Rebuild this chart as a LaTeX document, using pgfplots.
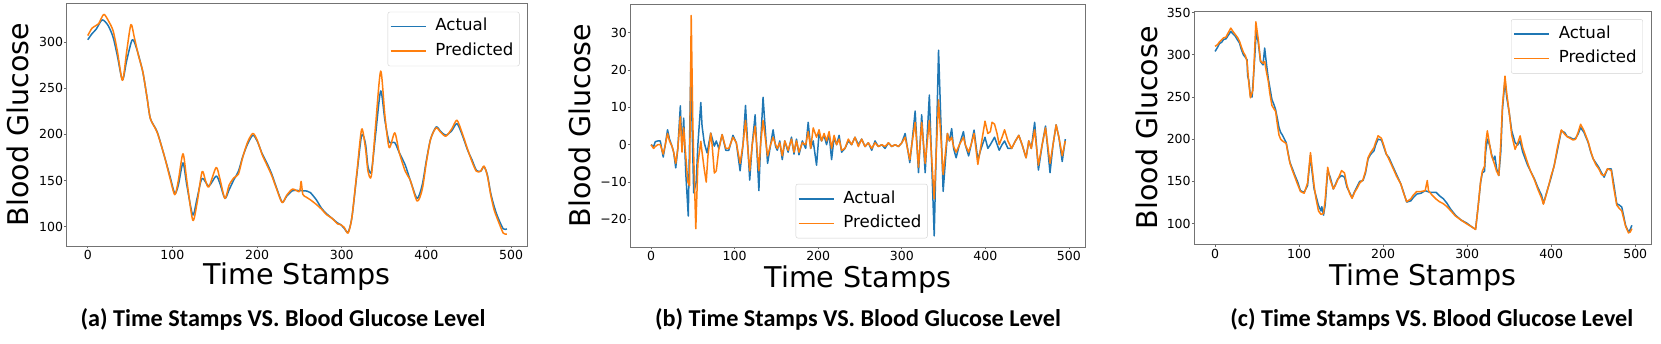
\documentclass[border=0pt]{standalone}
\usepackage{fontspec}
\setmainfont{DejaVu Sans}
\newfontfamily\capfont{Carlito}
\usepackage{pgfplots}
\pgfplotsset{compat=1.18}
\definecolor{mblue}{HTML}{1F77B4}
\definecolor{morange}{HTML}{FF7F0E}

\pgfplotsset{
  panel/.style={
    scale only axis,
    anchor=south west,
    axis line style={draw=black!55, line width=0.8pt},
    xmin=-24.75, xmax=519.75,
    xtick={0,100,...,500},
    xtick pos=bottom, ytick pos=left,
    tick align=outside,
    tick style={draw=black!60, line width=0.6pt},
    major tick length=2.5pt,
    tick label style={font=\fontsize{12.5}{13}\selectfont},
    xticklabel style={inner sep=1pt, yshift=-1pt},
    yticklabel style={inner sep=1pt},
    /pgf/number format/assume math mode=true,
    xlabel={Time Stamps},
    ylabel={Blood Glucose},
    xlabel style={font=\fontsize{28.6}{30}\selectfont, anchor=base},
    ylabel style={font=\fontsize{28.5}{30}\selectfont, anchor=base},
    legend cell align=left,
    legend style={font=\fontsize{16.6}{20}\selectfont, draw=black!18,
      rounded corners=2pt, inner xsep=2pt, inner ysep=2.5pt,
      nodes={inner xsep=4pt, inner ysep=4.5pt, text height=12pt, text depth=3.5pt},
      /tikz/every odd column/.append style={column sep=5pt}},
    legend image code/.code={\draw[#1, line width=1.5pt] (0pt,0pt) -- (35pt,0pt);},
    every axis plot/.append style={line width=1.5pt, line join=round},
  },
}
\tikzset{captxt/.style={font=\capfont\bfseries\fontsize{24.2}{26}\selectfont, anchor=base}}

\begin{document}
\begin{tikzpicture}
\useasboundingbox (0pt,0pt) rectangle (1661pt,344pt);

% (a) smoothed series
\begin{axis}[panel, at={(66.8pt,98pt)}, width=461pt, height=242.7pt,
  ymin=79, ymax=342, ytick={100,150,...,300},
  xlabel style={at={(axis description cs:0.5,-0.16)}},
  ylabel style={at={(axis description cs:-0.083,0.5)}},
  legend style={at={(axis description cs:0.982,0.965)}, anchor=north east}]
\addplot[mblue, smooth, tension=0.45] coordinates {
(0,302.5)(5,309)(10,314)(17,324)(24,318)(30,305)(35,285)(41,259)(46,280)(52.6,302.5)
(58,292)(65,267.6)(70,240)(74,217)(82,202.7)(90.6,176)(97,155)(102.8,136)(107,145)(112.5,169)
(117,145)(124,112.6)(129,130)(135,152.2)(143,144)(151.6,154.8)(156,147)(162,130.6)(167,140)(172.7,151)
(178,160)(183,175.7)(189,190)(195,199)(200,193)(206,179)(211,170)(217,157.7)(223,142)(229.6,126.5)
(235,133)(242,139)(250,139)(259,138.5)(263,136.8)(270,129)(276,120)(282,114)(288.5,109)(295,104)
(299,102)(303,98)(307.5,94)(312,110)(318,157.7)(323.5,199)(328,190)(331,165)(335,159.5)(340,200)
(346,247)(351,215)(356,192)(362.6,191)(368,180)(375,166.7)(381,150)(389,130.6)(395,145)(400,172)
(405,195)(411.5,208)(417,203)(423,199)(430,204)(436,211.7)(442,200)(448.6,183)(454,172)(459,161)
(464,160)(468,164.9)(472,156)(476,136)(480,122)(484,111)(490.7,97.6)(495,97.6)};
\addplot[morange, smooth, tension=0.45] coordinates {
(0,307)(5,315)(10,318)(13,320)(19,330)(25,322)(30,312)(35,290)(41,258.5)(46,290)
(51,319)(55,305)(60,285)(65,268)(70,240)(74,217)(82,202)(90.6,176)(97,153)(102.8,134.6)
(107,150)(112.5,179)(117,150)(124,107)(129,125)(135,159.5)(139,150)(143,143)(151.6,164)(156,152)
(162,130.6)(167,145)(172.7,153)(178,157)(183,175)(189,192)(195,201)(200,194)(206,178)(211,168)
(217,156)(223,141)(229.6,126)(235,134)(242,140.7)(250,138)(252,149)(254,135)(258,132)(263,129)
(270,124)(276,119)(282,113)(288.5,109)(295,103)(299,102)(303,99)(307.5,93)(312,110)(318,160)
(323.5,205.6)(328,185)(331,160)(335,155)(340,210)(346,268.6)(351,220)(356,185.6)(362.6,201.6)(368,180)
(375,160)(381,150)(389,127.7)(395,140)(400,170)(405,195)(411.5,207)(417,202)(423,198)(430,206)
(436,215.3)(442,202)(448.6,184)(454,170)(459,160)(464,160)(468,165.6)(472,155)(476,134)(480,118)
(484,108)(490.7,93)(495,92)};
\legend{Actual, Predicted}
\end{axis}

% (b) differenced series
\begin{axis}[panel, at={(630.4pt,97pt)}, width=455pt, height=242.7pt,
  ymin=-27.4, ymax=37.6, ytick={-20,-10,0,10,20,30},
  yticklabels={−20,−10,0,10,20,30},
  xlabel style={at={(axis description cs:0.5,-0.165)}},
  ylabel style={at={(axis description cs:-0.0888,0.5)}},
  legend style={at={(axis description cs:0.653,0.036)}, anchor=south east}]
\addplot[mblue] coordinates {
(0,0)(3,-0.5)(5,0.8)(8,1)(11,1)(14.5,-3.3)(17,0)(19.7,4)(22,1.5)(25,-0.4)
(27,-2)(29.5,-6.2)(32,-1)(35,10.4)(37,-1.3)(39,7.1)(41.5,-7.6)(44.5,-19.1)(47.5,20)(51,-12.9)
(54,-10)(56,0)(59.5,11.3)(61,5)(63.7,0.4)(67,-2.2)(71.4,3.1)(75.7,-0.4)(78,1)(81,-1)
(85,2.7)(89.4,-1.5)(93,-1.5)(98,2.5)(102,0.5)(106.5,-7)(110,0)(113,10.5)(118,-9.5)(121,0)
(124.5,8)(129,-12.3)(131,0)(134,12.7)(139.4,-5)(143,0)(146,4)(149,-0.5)(151,-1.5)(154,1)
(157,-4)(160,1)(164,-2)(168,2)(171,-2.5)(174,1.5)(177,-2.7)(181,1)(185,-1)(188,6)
(191,-1)(194,1)(198,-5.5)(201,3)(204,1)(207,2.5)(210,0)(213,3)(216,-4)(219,2)
(222,0)(225,2.5)(228,-2)(232,-1)(236,1)(240,0)(244,2)(248,0)(252,1.5)(256,-0.5)
(260,0.5)(264,-1.5)(268,1)(272,-0.5)(276,0)(280,-1)(284,0.5)(288,-0.5)(292,0)(296,-0.5)
(300,0.5)(304,3)(309.6,-4.8)(312,0)(316,9)(320,-7.5)(323.8,8)(328,-7.5)(333,13.3)(338.8,-24.4)
(344,25.3)(349.5,-12.5)(354.6,3)(357,1)(359.7,4.3)(362,-1)(365,-3.5)(369,0)(373.8,3.5)(376,0)
(380,-3)(383,0)(386.5,3.9)(391,-4)(395,-1)(399.6,2)(403,-1)(406,0)(411,2)(416.6,-1.5)
(420,0)(423,1)(427,-1)(431.5,-1)(436,1)(440,2.5)(444,0)(448.7,-3.5)(452,1)(455,-1)
(459,6)(463.5,-6.8)(468,0)(472,5)(477.4,-7.5)(481,0)(484.7,5.3)(488,2)(492,-4.5)(495.7,1.5)};
\addplot[morange] coordinates {
(0,0)(3,-1)(5,-0.5)(8,0)(11,0)(14.5,-2.5)(17,0)(19.7,3)(22,1)(25,-0.4)
(27,-2)(29.5,-5)(32,-1)(35,7.5)(37,-2)(39,4.5)(41.5,-3)(44,-10)(46,-11)(48,34.6)
(50,5)(53.5,-22.5)(56,-5)(59.5,0.9)(61,-2)(63.7,-6.7)(66,-10)(68,-3)(71.4,3.1)(73,0)
(75.7,-7.6)(78,-7)(81,-1.3)(85,2.7)(89.4,-1)(93,-1)(98,2)(102,0.5)(106.5,-5)(110,0)
(113,6.5)(118,-7)(121,0)(124.5,5)(129,-7)(131,0)(134,6.5)(139.4,-3)(143,0)(146,2)
(149,0)(151,-1)(154,0.5)(157,-3)(160,1)(164,-1.5)(168,1.5)(171,-2)(174,1)(177,-2)
(181,0.5)(185,0)(188,3.5)(191,-1)(194,4.5)(198,2)(201,4)(204,1)(207,3)(210,1)
(213,3.5)(216,-1)(219,2.5)(222,0)(225,1.5)(228,-1.5)(232,-1)(236,1.5)(240,0)(244,2)
(248,-0.5)(252,1.5)(256,-0.5)(260,0.5)(264,-1)(268,0.5)(272,-0.5)(276,0)(280,-0.5)(284,0.5)
(288,-0.5)(292,0)(296,-0.5)(300,0.5)(304,2)(309.6,-4)(312,0)(316,6)(320,-6)(323.8,6)
(328,-5)(333,6.5)(338.8,-14.5)(344,12)(349.5,-8)(354.6,3)(357,1)(359.7,2)(362,-0.5)(365,-2)
(369,0)(373.8,2)(376,0)(380,-2)(383,0)(386.5,3)(391,-5.3)(395,0)(399.6,6.3)(403,3)
(406,3.5)(408,6)(411,5.5)(414,3)(416.6,0)(420,2)(423,4)(427,1)(431.5,-1)(436,1)
(440,2.5)(444,0)(448.7,-3.5)(452,1)(455,-1)(459,4)(463.5,-5.5)(468,0)(472,4.5)(477.4,-5)
(481,0)(484.7,5.3)(488,2)(492,-3)(495.7,1)};
\legend{Actual, Predicted}
\end{axis}

% (c) raw series
\begin{axis}[panel, at={(1194.3pt,99.7pt)}, width=457.5pt, height=233pt,
  ymin=75.5, ymax=351.5, ytick={100,150,...,350},
  xlabel style={at={(axis description cs:0.5,-0.175)}},
  ylabel style={at={(axis description cs:-0.0815,0.5)}},
  legend style={at={(axis description cs:0.9805,0.966)}, anchor=north east}]
\addplot[mblue] coordinates {
(0,304)(3,309)(5,313)(8,315)(10,318)(13,319)(15,322)(18.7,327.6)(21,325)(24,322)
(27,317)(29,314)(31,307)(33.6,300)(36,297)(38,294)(38.7,275)(40,270)(42,251)(44,250)
(47,294)(49,329)(51.4,314)(54,292)(57,288)(59,308)(61,290)(63.4,271)(65,262)(67.6,247)
(70,241)(72,235)(74,225)(76,214)(78,208)(80,205)(84.6,196)(87,183)(89,172.6)(92,165)
(95,157)(98,150)(101.6,139)(106,137)(110,145)(113.5,181)(115,165)(117.8,141)(120,133)(123,121.6)
(126,115)(127,120)(129,110)(131,122)(134,163)(137,155)(140.7,141)(143,146)(146,153)(150.5,157)
(154,155)(157,143)(160,137)(163,130.6)(166,138)(169.6,145)(172,150)(176,151)(179,160)(182,176.5)
(185,182)(189,186)(191,193)(194,200)(198,199)(201,190)(203.6,182.4)(207,178)(212,166.7)(216,158)
(221,147)(224,138)(228,125.5)(233,127)(236,131)(240,135)(245,136)(250,139)(256,137)(263,137)
(267,133)(271.7,129.4)(276,124)(280,117.6)(286,110)(293,104)(299,101)(305.7,96)(310,93.3)(313,120)
(316,149)(318,160)(320.6,162)(322,185)(324,200)(327,192)(329,182)(331,175)(333,180)(335,165)
(337.6,157)(340,185)(342,235.4)(345,270)(347,250)(350,231.5)(353,210)(357,196)(360,193)(363,198)
(366,185)(371.6,170)(375,163)(380,153)(384,143)(388.6,133.4)(390.7,123.6)(394,135)(397,145)(400,155)
(403.5,168.7)(407,185)(412,210)(416,208)(419,203)(422.6,202)(426,200)(429,201)(432,206)(435,213.8)
(439,208)(444,196)(447,185)(450,176.5)(453,172)(456.6,166.7)(460,160)(463,155)(467,164.8)(471.5,164.8)
(474,150)(478,123.6)(481,122)(484,119.6)(486,110)(488.5,98)(492,90)(494,93)(496,98)};
\addplot[morange] coordinates {
(0,310)(3,312)(5,315)(8,318)(10,320)(13,321)(15,325)(18.7,331.6)(21,328)(24,324)
(27,320)(29,316)(31,310)(33.6,303)(36,299)(38,292)(40,268)(42,249)(45,258)(48.5,339)
(51.4,318)(54,293)(57,290)(59,292)(61,280)(63.4,268)(65,255)(67.6,240)(70,236)(72,233)
(74,218)(76,205)(78,200)(80,198)(84.6,195)(87,182)(89,172)(92,163)(95,155)(98,147)
(101.6,138)(106,136)(110,148)(113.5,184)(115,170)(117.8,145)(120,130)(123,115)(126,111)(129,112)
(131,128)(134,166.7)(137,152)(140.7,141)(143,145)(146,152)(150.5,162.8)(154,160)(157,145)(160,136)
(163,130)(166,137)(169.6,143)(172,148)(176,152)(179,162)(182,178)(185,184)(189,190)(191,196)
(194,204)(198,201)(201,192)(203.6,183)(207,176)(212,165)(216,156)(221,147)(224,137)(228,126)
(233,129.4)(236,134)(240,138)(245,138)(250,139)(252.5,151)(254,139)(258,134)(263,129)(267,126)
(271.7,123.5)(276,120)(280,115.7)(286,109)(293,104)(299,100)(305.7,96)(310,93)(313,120)(316,150)
(318,162)(320.6,168)(322,195)(324,210)(327,192)(329,180.5)(331,175)(333,168.7)(335,162)(337.6,157)
(340,195)(342,240)(345,274.6)(347,255)(350,232)(353,205)(357,188)(360,195)(363,204)(366,190)
(371.6,173)(375,163)(380,152)(384,141)(388.6,130)(390.7,123)(394,134)(397,145)(400,157)(403.5,168)
(407,188)(412,211)(416,206)(419,203)(422.6,201)(426,199)(429,200)(432,208)(435,217.7)(439,210)
(444,197)(447,186)(450,177)(453,170)(456.6,165)(460,158)(463,157)(467,165)(471.5,163)(474,145)
(478,122)(481,118)(484,115)(486,107)(488.5,97)(492,89)(494,90)(496,94)};
\legend{Actual, Predicted}
\end{axis}

\node[captxt] at (283pt,17.3pt) {(a) Time Stamps VS. Blood Glucose Level};
\node[captxt] at (858pt,17.3pt) {(b) Time Stamps VS. Blood Glucose Level};
\node[captxt] at (1431.8pt,17.3pt) {(c) Time Stamps VS. Blood Glucose Level};
\end{tikzpicture}
\end{document}
